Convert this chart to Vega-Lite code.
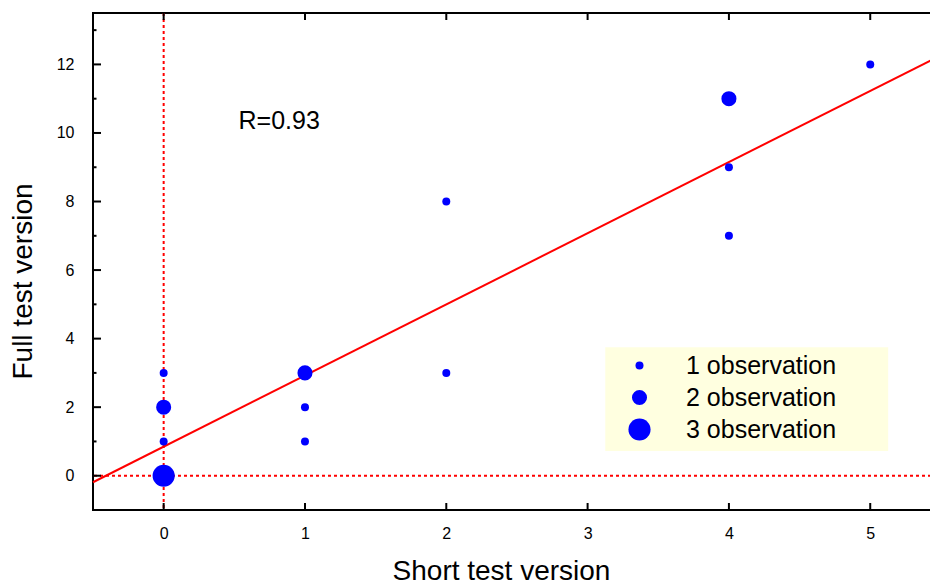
{
  "$schema": "https://vega.github.io/schema/vega-lite/v6.json",
  "width": 838,
  "height": 497,
  "autosize": {"type": "none"},
  "padding": {"left": 93, "top": 13, "right": 0, "bottom": 78},
  "background": "white",
  "config": {
    "font": "Liberation Sans",
    "view": {"stroke": "black", "strokeWidth": 2},
    "axis": {
      "domain": false,
      "grid": false,
      "ticks": false,
      "tickSize": 0,
      "zindex": 1,
      "labelColor": "black",
      "labelFont": "Liberation Sans",
      "labelFontSize": 16,
      "titleFont": "Liberation Sans",
      "titleFontSize": 28,
      "titleFontWeight": "normal",
      "titleColor": "black"
    }
  },
  "datasets": {
    "obs": [
      {"short": 0, "full": 0, "n": 3},
      {"short": 0, "full": 1, "n": 1},
      {"short": 0, "full": 2, "n": 2},
      {"short": 0, "full": 3, "n": 1},
      {"short": 1, "full": 1, "n": 1},
      {"short": 1, "full": 2, "n": 1},
      {"short": 1, "full": 3, "n": 2},
      {"short": 2, "full": 3, "n": 1},
      {"short": 2, "full": 8, "n": 1},
      {"short": 4, "full": 7, "n": 1},
      {"short": 4, "full": 9, "n": 1},
      {"short": 4, "full": 11, "n": 2},
      {"short": 5, "full": 12, "n": 1}
    ],
    "fit": [
      {"short": -0.5, "full": -0.19},
      {"short": 5.43, "full": 12.12}
    ],
    "xticks": [{"v": 0}, {"v": 1}, {"v": 2}, {"v": 3}, {"v": 4}, {"v": 5}],
    "ymajor": [{"v": 0}, {"v": 2}, {"v": 4}, {"v": 6}, {"v": 8}, {"v": 10}, {"v": 12}],
    "yminor": [{"v": 1}, {"v": 3}, {"v": 5}, {"v": 7}, {"v": 9}, {"v": 11}, {"v": 13}]
  },
  "resolve": {"axis": {"x": "independent", "y": "independent"}},
  "layer": [
    {
      "data": {"values": [{}]},
      "mark": {"type": "rect", "fill": "#FFFFE0", "stroke": null},
      "encoding": {
        "x": {"datum": 3.125, "type": "quantitative", "axis": null},
        "x2": {"datum": 5.127},
        "y": {"datum": 3.751, "type": "quantitative", "axis": null},
        "y2": {"datum": 0.72}
      }
    },
    {
      "data": {"values": [{"short": 0}]},
      "mark": {"type": "rule", "color": "#FF0000", "strokeWidth": 2, "strokeDash": [3, 3]},
      "encoding": {
        "x": {
          "field": "short", "type": "quantitative",
          "scale": {"domain": [-0.5, 5.43], "nice": false, "zero": false},
          "axis": null
        }
      }
    },
    {
      "data": {"values": [{"full": 0}]},
      "mark": {"type": "rule", "color": "#FF0000", "strokeWidth": 2, "strokeDash": [3, 3]},
      "encoding": {
        "y": {"field": "full", "type": "quantitative", "axis": null}
      }
    },
    {
      "data": {"name": "xticks"},
      "mark": {"type": "tick", "orient": "vertical", "color": "black", "size": 14, "thickness": 2, "clip": true, "opacity": 1},
      "encoding": {
        "x": {"field": "v", "type": "quantitative", "axis": null},
        "y": {"datum": -1, "type": "quantitative", "axis": null}
      }
    },
    {
      "data": {"name": "xticks"},
      "mark": {"type": "tick", "orient": "vertical", "color": "black", "size": 14, "thickness": 2, "clip": true, "opacity": 1},
      "encoding": {
        "x": {"field": "v", "type": "quantitative", "axis": null},
        "y": {"datum": 13.5, "type": "quantitative", "axis": null}
      }
    },
    {
      "data": {"name": "ymajor"},
      "mark": {"type": "tick", "orient": "horizontal", "color": "black", "size": 16, "thickness": 2, "clip": true, "opacity": 1},
      "encoding": {
        "x": {"datum": -0.5, "type": "quantitative", "axis": null},
        "y": {"field": "v", "type": "quantitative", "axis": null}
      }
    },
    {
      "data": {"name": "yminor"},
      "mark": {"type": "tick", "orient": "horizontal", "color": "black", "size": 7, "thickness": 2, "clip": true, "opacity": 1},
      "encoding": {
        "x": {"datum": -0.5, "type": "quantitative", "axis": null},
        "y": {"field": "v", "type": "quantitative", "axis": null}
      }
    },
    {
      "data": {"name": "fit"},
      "mark": {"type": "line", "color": "#FF0000", "strokeWidth": 2},
      "encoding": {
        "x": {"field": "short", "type": "quantitative", "axis": null},
        "y": {"field": "full", "type": "quantitative", "axis": null}
      }
    },
    {
      "data": {"name": "obs"},
      "mark": {"type": "circle", "color": "#0000FF", "opacity": 1},
      "encoding": {
        "x": {
          "field": "short", "type": "quantitative",
          "axis": {"orient": "bottom", "values": [0, 1, 2, 3, 4, 5], "labelPadding": 15, "title": "Short test version", "titlePadding": 16, "titleX": 408}
        },
        "y": {
          "field": "full", "type": "quantitative",
          "scale": {"domain": [-1, 13.5], "nice": false, "zero": false},
          "axis": {
            "orient": "left",
            "values": [0, 2, 4, 6, 8, 10, 12],
            "labelPadding": 19,
            "title": "Full test version",
            "titlePadding": 19,
            "titleY": 268
          }
        },
        "size": {
          "field": "n", "type": "quantitative",
          "scale": {"type": "linear", "domain": [1, 2, 3], "range": [64, 227, 490], "zero": false},
          "legend": {
            "orient": "none",
            "legendX": 534,
            "legendY": 340,
            "values": [1, 2, 3],
            "title": null,
            "padding": 0,
            "rowPadding": 6,
            "labelOffset": 34,
            "labelFontSize": 25,
            "labelLimit": 400,
            "labelFont": "Liberation Sans",
            "labelColor": "black",
            "labelExpr": "datum.value + ' observation'",
            "symbolType": "circle",
            "symbolFillColor": "#0000FF",
            "symbolStrokeWidth": 0
          }
        }
      }
    },
    {
      "data": {"values": [{}]},
      "mark": {"type": "text", "align": "left", "baseline": "middle", "fontSize": 25, "font": "Liberation Sans", "color": "black"},
      "encoding": {
        "x": {"datum": 0.53, "type": "quantitative", "axis": null},
        "y": {"datum": 10.35, "type": "quantitative", "axis": null},
        "text": {"value": "R=0.93"}
      }
    }
  ]
}
